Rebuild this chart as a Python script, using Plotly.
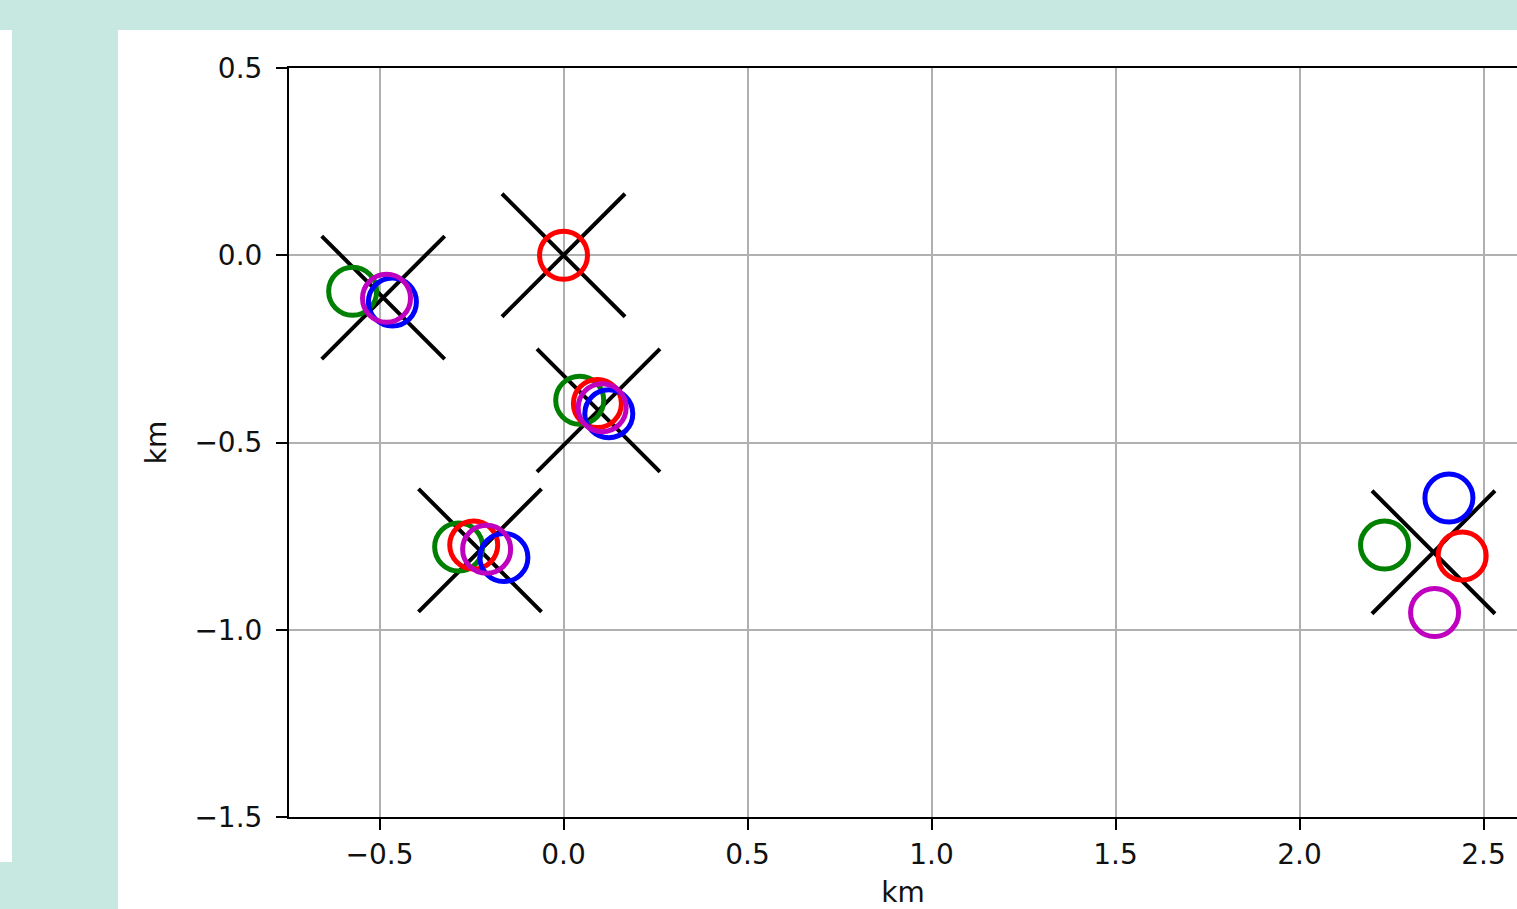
import plotly.graph_objects as go

# Station positions (km) marked with crosses
station_x = [-0.49, 0.0, 0.095, -0.227, 2.364]
station_y = [-0.113, 0.0, -0.414, -0.788, -0.793]

# Estimated locations (km) from four solutions
green_x = [-0.573, 0.044, -0.285, 2.231]
green_y = [-0.096, -0.387, -0.779, -0.774]
red_x = [0.0, 0.092, -0.244, 2.442]
red_y = [0.0, -0.396, -0.774, -0.803]
blue_x = [-0.465, 0.123, -0.162, 2.406]
blue_y = [-0.125, -0.423, -0.807, -0.648]
magenta_x = [-0.481, 0.105, -0.209, 2.367]
magenta_y = [-0.115, -0.407, -0.785, -0.954]

xtick_vals = [-0.5, 0.0, 0.5, 1.0, 1.5, 2.0, 2.5]
ytick_vals = [0.5, 0.0, -0.5, -1.0, -1.5]


def fmt(v):
    s = f"{abs(v):.1f}"
    return ("\u2212" + s) if v < 0 else s


W, H = 1517, 909
fig = go.Figure()

fig.add_trace(go.Scatter(
    x=station_x, y=station_y, mode="markers",
    marker=dict(symbol="x-thin-open", size=123, color="black",
                line=dict(color="black", width=4)),
    hoverinfo="skip", showlegend=False))

for xs, ys, col in [(green_x, green_y, "#008000"),
                    (red_x, red_y, "#ff0000"),
                    (blue_x, blue_y, "#0000ff"),
                    (magenta_x, magenta_y, "#bf00bf")]:
    fig.add_trace(go.Scatter(
        x=xs, y=ys, mode="markers",
        marker=dict(symbol="circle-open", size=48, color=col,
                    line=dict(color=col, width=5)),
        hoverinfo="skip", showlegend=False))

# Figure panels on the teal page
fig.add_shape(type="rect", xref="paper", yref="paper", layer="below",
              x0=-0.5, x1=1.5, y0=-0.5, y1=1.5, line_width=0,
              fillcolor="#c6e8e1")
fig.add_shape(type="rect", xref="paper", yref="paper", layer="below",
              x0=(118 - 289) / 1228, x1=1.0 + 5 / 1228,
              y0=(817 - 909) / 749, y1=(817 - 30) / 749,
              line_width=0, fillcolor="white")
fig.add_shape(type="rect", xref="paper", yref="paper", layer="below",
              x0=(0 - 289) / 1228, x1=(12 - 289) / 1228,
              y0=(817 - 862) / 749, y1=(817 - 30) / 749,
              line_width=0, fillcolor="white")

label_font = dict(family="DejaVu Sans", size=28, color="#111111")

axis_common = dict(
    showgrid=True, gridcolor="#b0b0b0", gridwidth=1.6,
    zeroline=False, showline=True, linecolor="black", linewidth=2,
    ticks="outside", ticklen=11, tickwidth=2, tickcolor="black",
    tickfont=label_font, mirror=True,
)

fig.update_xaxes(
    range=[-0.746, 2.591], tickmode="array", tickvals=xtick_vals,
    ticktext=[fmt(v) for v in xtick_vals],
    title=dict(text="km", font=label_font, standoff=25),
    **axis_common)
fig.update_yaxes(
    range=[-1.5, 0.5], tickmode="array", tickvals=ytick_vals,
    ticktext=[fmt(v) for v in ytick_vals], ticklabelstandoff=8,
    title=dict(text="km", font=label_font, standoff=20),
    **axis_common)

fig.update_layout(
    width=W, height=H,
    margin=dict(l=289, r=0, t=68, b=92, autoexpand=False),
    paper_bgcolor="#c6e8e1", plot_bgcolor="white",
)

fig.write_html("out.html")
